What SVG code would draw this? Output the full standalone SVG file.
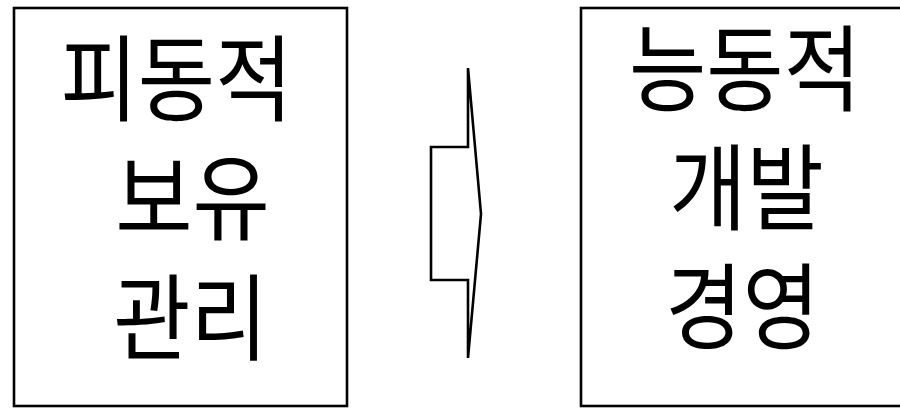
<svg xmlns="http://www.w3.org/2000/svg" width="900" height="408" viewBox="0 0 900 408">
<style>
.box{fill:#fff;stroke:#000;stroke-width:2.6}
.t{font-family:"Noto Sans CJK KR","Noto Sans",sans-serif;font-size:84px;fill:#000;text-anchor:middle}
.arr{fill:#fff;stroke:#000;stroke-width:2.6;stroke-linejoin:miter}
</style>
<rect width="900" height="408" fill="#fff"/>
<g id="left">
<rect class="box" x="14" y="8" width="333" height="398"/>
<text class="t" transform="translate(176.5,114) scale(1,1.13)">피동적</text>
<text class="t" transform="translate(192.5,233) scale(1,1.13)">보유</text>
<text class="t" transform="translate(190.5,353) scale(1,1.13)">관리</text>
</g>
<g id="connectors">
<path class="arr" d="M431,147 L468,147 L468,68 L481,214 L468,358 L468,280 L431,280 Z"/>
</g>
<g id="right">
<rect class="box" x="581" y="8" width="330" height="398"/>
<text class="t" transform="translate(745,104) scale(1,1.13)">능동적</text>
<text class="t" transform="translate(746.5,223) scale(1,1.13)">개발</text>
<text class="t" transform="translate(742.5,342) scale(1,1.13)">경영</text>
</g>
</svg>
